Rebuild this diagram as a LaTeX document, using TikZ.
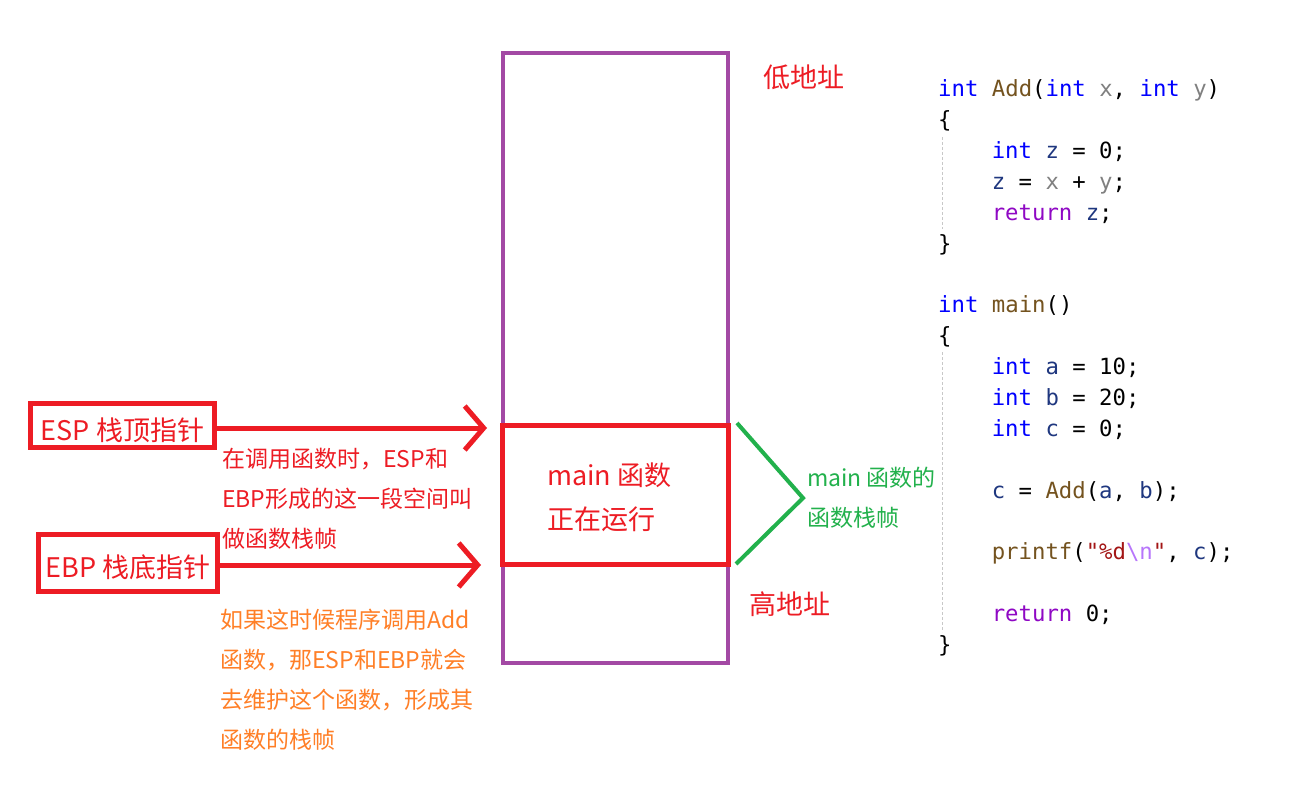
\documentclass[tikz,border=0pt]{standalone}
\usepackage{fontspec}
\setmainfont{Noto Sans CJK SC}
\newfontfamily\codefont{DejaVu Sans Mono}
\usetikzlibrary{arrows.meta}
\definecolor{redA}{HTML}{ED1C24}
\definecolor{orangeA}{HTML}{FF7F27}
\definecolor{greenA}{HTML}{22B14C}
\definecolor{purpleA}{HTML}{A349A4}
\definecolor{kw}{HTML}{0000FF}
\definecolor{fn}{HTML}{74531F}
\definecolor{par}{HTML}{808080}
\definecolor{loc}{HTML}{1F377F}
\definecolor{ret}{HTML}{8F08C4}
\definecolor{str}{HTML}{A31515}
\definecolor{esc}{HTML}{B776FB}
\definecolor{guide}{HTML}{C8C8C8}
\newcommand{\K}[1]{\textcolor{kw}{#1}}
\newcommand{\F}[1]{\textcolor{fn}{#1}}
\newcommand{\Pa}[1]{\textcolor{par}{#1}}
\newcommand{\Lo}[1]{\textcolor{loc}{#1}}
\newcommand{\R}[1]{\textcolor{ret}{#1}}
\newcommand{\St}[1]{\textcolor{str}{#1}}
\newcommand{\Es}[1]{\textcolor{esc}{#1}}
\tikzset{
  ptrbox/.style={draw=redA, line width=5pt, inner sep=0pt, text=redA,
    text height=32pt, text depth=3pt,
    font=\fontsize{27}{30}\selectfont},
  ptrarrow/.style={draw=redA, line width=5pt,
    -{Straight Barb[length=19pt,width=44pt]}},
  note/.style={anchor=west, inner sep=0pt, align=left},
  codeline/.style={anchor=base west, inner sep=0pt,
    font=\codefont\fontsize{22.3}{30}\selectfont},
  guideline/.style={draw=guide, line width=1pt, dash pattern=on 3pt off 2pt}
}
\begin{document}
\begin{tikzpicture}[x=1pt,y=-1pt]
\useasboundingbox[fill=white] (0,0) rectangle (1312,789);

% stack
\node[draw=purpleA, line width=4pt, minimum width=225pt, minimum height=610pt,
  inner sep=0pt] (stack) at (615.5,358) {};
\node[draw=redA, line width=5pt, minimum width=225.5pt, minimum height=139.5pt,
  inner sep=0pt] (frame) at (615.25,494.75) {};
\node[note, text=redA, font=\fontsize{27}{44}\selectfont] (mainlbl) at (547,497)
  {main 函数\\正在运行};

% address labels
\node[note, text=redA, font=\fontsize{27}{30}\selectfont] (low) at (763,77) {低地址};
\node[note, text=redA, font=\fontsize{27}{30}\selectfont] (high) at (749,604) {高地址};

% pointer boxes
\node[ptrbox, minimum width=184pt, minimum height=44pt] (esp) at (122.5,425.5) {ESP 栈顶指针};
\node[ptrbox, minimum width=179pt, minimum height=57pt] (ebp) at (128,563) {EBP 栈底指针};
\coordinate (esptip) at (487,428);
\coordinate (ebptip) at (481,565);
\draw[ptrarrow] (esp.east |- esptip) -- (esptip);
\draw[ptrarrow] (ebp.east |- ebptip) -- (ebptip);

% notes
\node[note, text=redA, font=\fontsize{23}{40}\selectfont] (note1) at (222,499)
  {在调用函数时，ESP和\\EBP形成的这一段空间叫\\做函数栈帧};
\node[note, text=orangeA, font=\fontsize{23}{40}\selectfont] (note2) at (220,680)
  {如果这时候程序调用Add\\函数，那ESP和EBP就会\\去维护这个函数，形成其\\函数的栈帧};

% green brace
\coordinate (gtop) at (737,423);
\coordinate (gtip) at (803,498);
\coordinate (gbot) at (736,564);
\draw[greenA, line width=4pt, line join=miter] (gtop) -- (gtip) -- (gbot);
\node[note, text=greenA, font=\fontsize{23}{40}\selectfont] (framelbl) at (807,498)
  {main 函数的\\函数栈帧};

% code guides
\coordinate (g1a) at (942,137);
\coordinate (g1b) at (942,229);
\coordinate (g2a) at (942,352);
\coordinate (g2b) at (942,632);
\draw[guideline] (g1a) -- (g1b);
\draw[guideline] (g2a) -- (g2b);

% code
\def\cx{938}
\def\ci{991.6}
\node[codeline] (c0) at (\cx,97) {\K{int} \F{Add}(\K{int} \Pa{x}, \K{int} \Pa{y})};
\node[codeline] (c1) at (\cx,127.85) {\{};
\node[codeline] (c2) at (\ci,158.7) {\K{int} \Lo{z} = 0;};
\node[codeline] (c3) at (\ci,189.55) {\Lo{z} = \Pa{x} + \Pa{y};};
\node[codeline] (c4) at (\ci,220.4) {\R{return} \Lo{z};};
\node[codeline] (c5) at (\cx,251.25) {\}};
\node[codeline] (c7) at (\cx,312.95) {\K{int} \F{main}()};
\node[codeline] (c8) at (\cx,343.8) {\{};
\node[codeline] (c9) at (\ci,374.65) {\K{int} \Lo{a} = 10;};
\node[codeline] (c10) at (\ci,405.5) {\K{int} \Lo{b} = 20;};
\node[codeline] (c11) at (\ci,436.35) {\K{int} \Lo{c} = 0;};
\node[codeline] (c13) at (\ci,498.05) {\Lo{c} = \F{Add}(\Lo{a}, \Lo{b});};
\node[codeline] (c15) at (\ci,559.75) {\F{printf}(\St{"\%d}\Es{\textbackslash n}\St{"}, \Lo{c});};
\node[codeline] (c17) at (\ci,621.45) {\R{return} 0;};
\node[codeline] (c18) at (\cx,652.3) {\}};
\end{tikzpicture}
\end{document}
